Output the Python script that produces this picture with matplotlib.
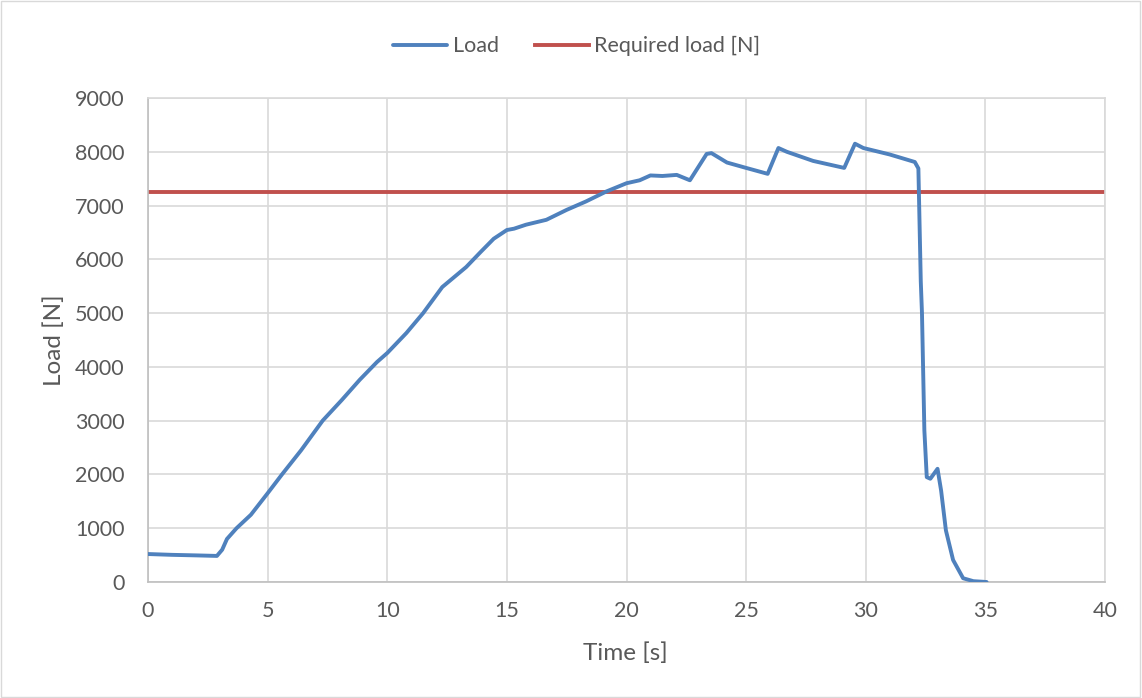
import matplotlib
matplotlib.use('Agg')
import matplotlib.pyplot as plt
from matplotlib.patches import Rectangle

time_s = [0.0, 1.0, 2.0, 2.88, 3.1, 3.3, 3.7, 4.3, 5.0, 5.6, 6.4, 7.3, 8.1, 8.85,
          9.57, 10.0, 10.8, 11.5, 12.3, 13.3, 13.9, 14.45, 15.0, 15.3, 15.8,
          16.65, 17.5, 18.3, 19.15, 20.0, 20.55, 21.0, 21.5, 22.1, 22.65,
          23.35, 23.55, 24.2, 25.0, 25.9, 26.35, 26.7, 27.8, 29.1, 29.55,
          29.9, 31.0, 32.05, 32.2, 32.3, 32.35, 32.45, 32.55, 32.7, 33.0,
          33.15, 33.35, 33.65, 34.07, 34.5, 35.05]
load_n = [520, 505, 495, 485, 600, 800, 1000, 1250, 1650, 2000, 2450, 3000, 3384, 3760,
          4090, 4258, 4630, 5000, 5485, 5857, 6135, 6383, 6545, 6570, 6644,
          6735, 6920, 7075, 7260, 7415, 7470, 7560, 7550, 7570, 7470,
          7960, 7975, 7800, 7700, 7590, 8070, 8000, 7830, 7700, 8150,
          8070, 7950, 7810, 7690, 5590, 5000, 2820, 1950, 1920, 2105,
          1700, 960, 410, 70, 15, 0]
required_load = 7250

W, H = 1142, 698
text_col = '#595959'
plt.rcParams['font.family'] = ['Lato', 'DejaVu Sans']

fig = plt.figure(figsize=(W / 100, H / 100), dpi=100)
ax = fig.add_axes([148 / W, 1 - 582 / H, (1105 - 148) / W, (582 - 98) / H])

ax.plot(time_s, load_n, color='#4f81bd', lw=2.8, label='Load',
        solid_joinstyle='round', solid_capstyle='round', zorder=3)
ax.axhline(required_load, color='#c0504d', lw=2.8, label='Required load [N]', zorder=2)

ax.set_xlim(0, 40)
ax.set_ylim(0, 9000)
ax.set_xticks(range(0, 41, 5))
ax.set_yticks(range(0, 9001, 1000))
ax.grid(True, color='#d9d9d9', lw=1.2)
ax.set_axisbelow(True)
ax.tick_params(length=0, colors=text_col, labelsize=15.5)
ax.tick_params(axis='x', pad=14)
ax.tick_params(axis='y', pad=17)
for side in ['top', 'right']:
    ax.spines[side].set_color('#d9d9d9')
    ax.spines[side].set_linewidth(1.2)
for side in ['left', 'bottom']:
    ax.spines[side].set_color('#bfbfbf')
    ax.spines[side].set_linewidth(1.2)

# Achsentitel
fig.text(625 / W, 1 - 653 / H, 'Time [s]', color=text_col, fontsize=17.5,
         ha='center', va='center')
fig.text(54 / W, 1 - 340 / H, 'Load [N]', color=text_col, fontsize=17.5,
         ha='center', va='center', rotation=90)

fig.legend(loc='center', bbox_to_anchor=(577 / W, 1 - 46 / H), ncol=2, frameon=False,
           fontsize=15.5, handlelength=2.5, handletextpad=0.25, columnspacing=1.7,
           labelcolor=text_col)

# Rahmen des Diagrammbereichs
fig.patches.append(Rectangle((0.001, 0.001), 0.997, 0.997, transform=fig.transFigure,
                             fill=False, edgecolor='#d9d9d9', lw=1))

fig.savefig('out.png', dpi=100)
